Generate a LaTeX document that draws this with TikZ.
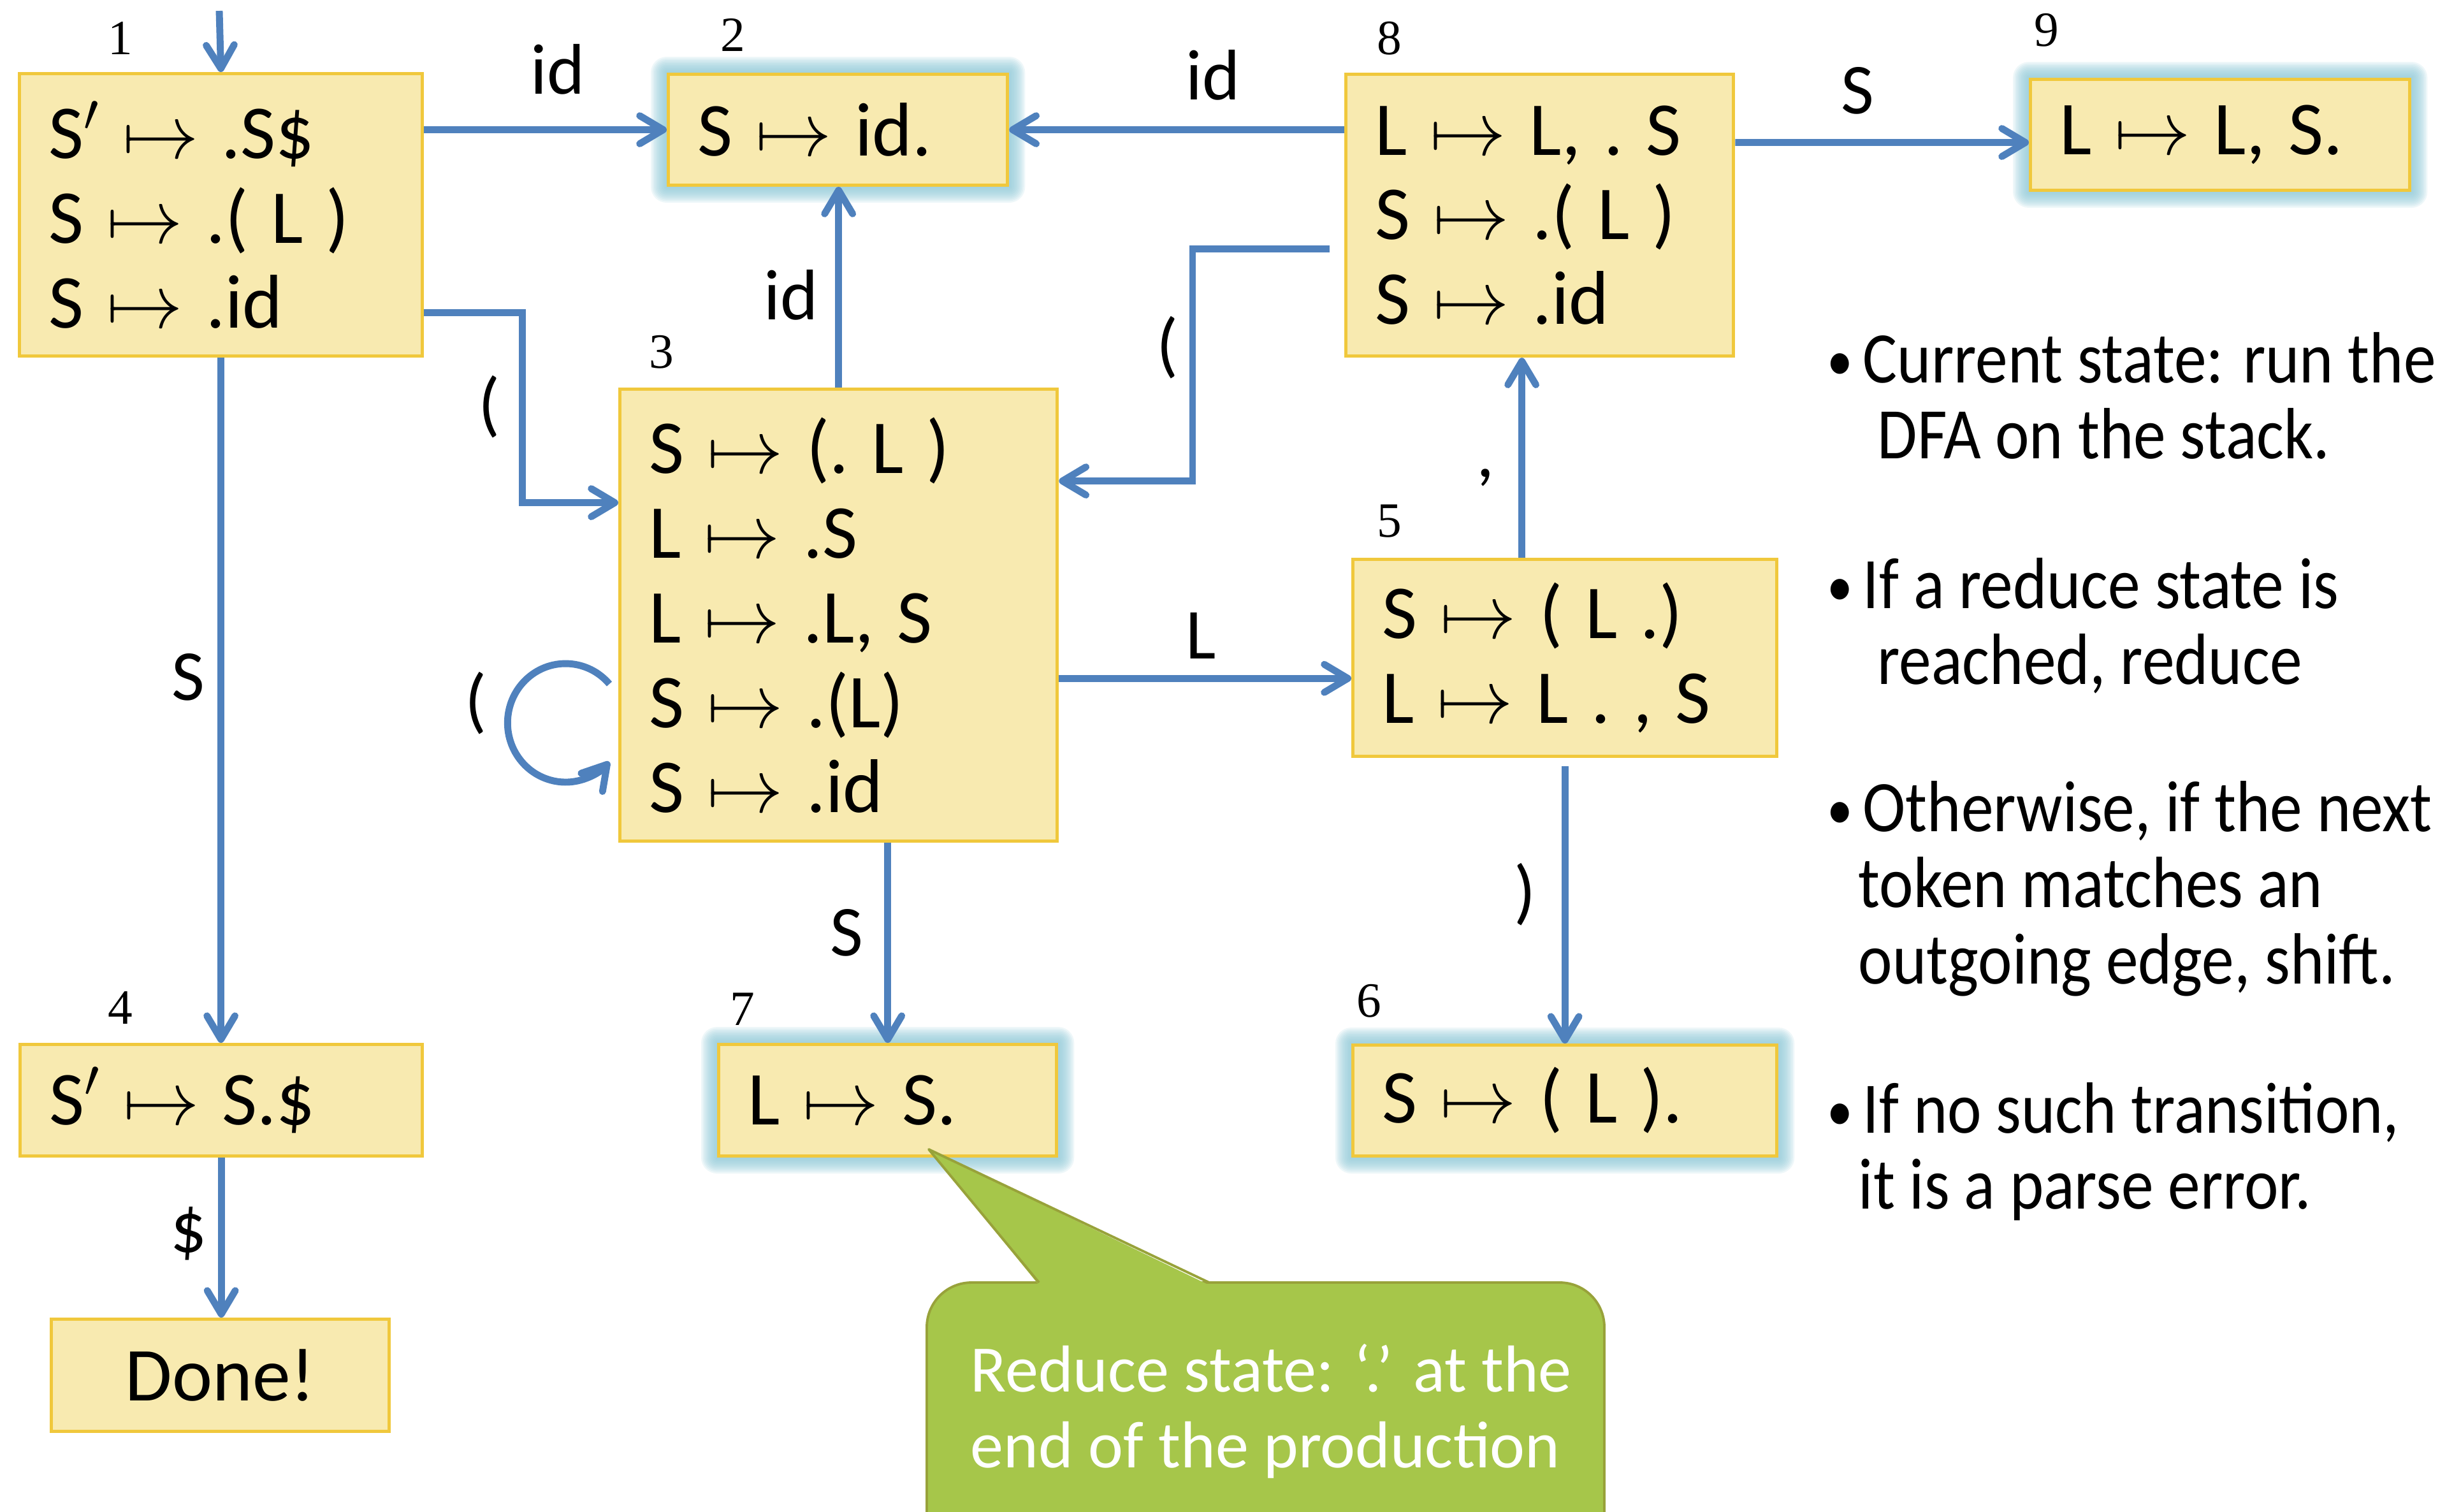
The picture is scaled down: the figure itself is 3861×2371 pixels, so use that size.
\RequirePackage{fix-cm}
\documentclass[tikz,border=0pt]{standalone}
\usepackage{fontspec}
\setmainfont{Carlito}
\newfontfamily\numfont{Liberation Serif}
\newfontfamily\bulletfont{Carlito}[FakeStretch=0.89]
\usetikzlibrary{arrows.meta,backgrounds}

\definecolor{statefill}{RGB}{248,234,176}
\definecolor{stateline}{RGB}{240,200,60}
\definecolor{edgeblue}{RGB}{79,129,189}
\definecolor{glowblue}{RGB}{146,204,218}
\definecolor{notefill}{RGB}{166,198,74}
\definecolor{noteline}{RGB}{152,162,58}

% item bullet and the gap used inside the item sets
\newcommand\itemdot{\makebox[0.56cm][l]{\raisebox{0.04cm}{\fontsize{26}{26}\selectfont •}}}
\newcommand\gap{\hspace{0.36cm}}
\newcommand\mt{\gap$\mapsto$\gap}

\tikzset{
  itembox/.style={draw=stateline, fill=statefill, line width=1.4pt, anchor=north west,
    inner xsep=0.46cm, inner ysep=0pt, align=left,
    font=\fontsize{34}{37.8}\selectfont},
  trans/.style={draw=edgeblue, line width=3.1pt,
    -{Straight Barb[round, length=10.5pt, width=12.5pt]}},
  edgelabel/.style={font=\fontsize{32}{36}\selectfont, inner sep=0pt},
  statenum/.style={font=\numfont\fontsize{22}{24}\selectfont, inner sep=0pt},
  bullettext/.style={font=\bulletfont\fontsize{32.4}{34.1}\selectfont, inner sep=0pt, anchor=base west},
  notetext/.style={font=\fontsize{29.6}{34.1}\selectfont, text=white, inner sep=0pt, anchor=base west},
}

\begin{document}
\begin{tikzpicture}[x=0.01cm, y=-0.01cm]
\useasboundingbox (0,0) rectangle (3861,2371);
\clip (0,0) rectangle (3861,2371);

% LR item sets
\node[itembox, minimum width=6.32cm, minimum height=4.43cm, text width=5.40cm] (n1) at (28,113)
  {S$'$\mt.S\$\\S\mt.(\gap L\gap)\\S\mt.id};
\node[itembox, minimum width=5.32cm, minimum height=1.74cm, text width=4.40cm] (n2) at (1046,114)
  {S\mt id.};
\node[itembox, minimum width=6.08cm, minimum height=4.42cm, text width=5.16cm] (n8) at (2109,114)
  {L\mt L,\gap.\gap S\\S\mt.(\gap L\gap)\\S\mt.id};
\node[itembox, minimum width=5.95cm, minimum height=1.74cm, text width=5.03cm] (n9) at (3183,122)
  {L\mt L,\gap S.};
\node[itembox, minimum width=6.86cm, minimum height=7.09cm, text width=5.94cm] (n3) at (970,608)
  {S\mt(.\gap L\gap)\\L\mt.S\\L\mt.L,\gap S\\S\mt.(L)\\S\mt.id};
\node[itembox, minimum width=6.65cm, minimum height=3.09cm, text width=5.73cm] (n5) at (2120,875)
  {S\mt(\gap L\gap.)\\L\mt L\gap.\gap,\gap S};
\node[itembox, minimum width=6.31cm, minimum height=1.75cm, text width=5.39cm] (n4) at (29,1636)
  {S$'$\mt S.\$};
\node[itembox, minimum width=5.30cm, minimum height=1.76cm, align=center] (nd) at (78,2067)
  {Done!};
\node[itembox, minimum width=5.30cm, minimum height=1.75cm, text width=4.38cm] (n7) at (1125,1636)
  {L\mt S.};
\node[itembox, minimum width=6.65cm, minimum height=1.74cm, text width=5.73cm] (n6) at (2120,1637)
  {S\mt(\gap L\gap).};

% state numbers
\node[statenum] (k1) at (189,60) {1};
\node[statenum] (k2) at (1150,55) {2};
\node[statenum] (k8) at (2180,60) {8};
\node[statenum] (k9) at (3211,47) {9};
\node[statenum] (k3) at (1038,552) {3};
\node[statenum] (k5) at (2180,818) {5};
\node[statenum] (k4) at (189,1581) {4};
\node[statenum] (k7) at (1165,1583) {7};
\node[statenum] (k6) at (2148,1570) {6};

% transitions
\coordinate (init) at (344,17);
\draw[trans] (init) -- (n1.north);
\draw[trans] (n1.east |- n2.west) -- (n2.west);
\draw[trans] ([yshift=-1.535cm]n1.east) -- ++(154,0) |- ([yshift=1.765cm]n3.west);
\draw[trans] (n1.south) -- (n1.south |- n4.north);
\draw[trans] (n4.south) -- (n4.south |- nd.north);
\draw[trans] (n3.north) -- (n3.north |- n2.south);
\draw[trans] (n8.west |- n2.east) -- (n2.east);
\draw[trans] ([xshift=-0.23cm, yshift=-0.53cm]n8.west) -- ++(-215,0) |- ([yshift=2.105cm]n3.east);
\draw[trans] ([yshift=1.14cm]n8.east) -- ([yshift=-0.12cm]n9.west);
\draw[trans] ([yshift=-0.99cm]n3.east) coordinate (p35) -- (p35 -| n5.west);
\draw[trans] ([xshift=-0.675cm]n5.north) coordinate (p58) -- (p58 |- n8.south);
\draw[trans] ([yshift=-0.13cm]n5.south) -- (n6.north);
\draw[trans] ([xshift=0.77cm]n3.south) coordinate (p37) -- (p37 |- n7.north);
\coordinate (loopstart) at (956,1073);
\draw[trans] (loopstart) arc[start angle=-41, end angle=-319, x radius=91, y radius=93];

% transition labels
\node[edgelabel] (l12) at (875,109) {id};
\node[edgelabel] (l13) at (768,638) {(};
\node[edgelabel] (l14) at (295,1062) {S};
\node[edgelabel] (l4d) at (296,1935) {\$};
\node[edgelabel] (l32) at (1241,463) {id};
\node[edgelabel] (l82) at (1903,118) {id};
\node[edgelabel] (l83) at (1832,545) {(};
\node[edgelabel] (l33) at (747,1103) {(};
\node[edgelabel] (l89) at (2914,142) {S};
\node[edgelabel] (l35) at (1884,997) {L};
\node[edgelabel] (l58) at (2331,749) {,};
\node[edgelabel] (l56) at (2393,1403) {)};
\node[edgelabel] (l37) at (1328,1463) {S};

% callout
\fill[notefill, draw=noteline, line width=1.1pt, rounded corners=0.7cm] (1454,2012) rectangle (2517,2500);
\fill[notefill] (1630,2016) -- (1457,1803) -- (1897,2016) -- cycle;
\draw[noteline, line width=1.1pt, line join=round] (1630,2012) -- (1457,1803) -- (1897,2012);
\node[notetext] (note) at (1522,2183)
  {\parbox[t]{10cm}{Reduce state: ‘.’ at the\\end of the production}};

% explanation
\node[bullettext] (b1) at (2866,600)
  {\parbox[t]{11cm}{\itemdot Current state: run the\\\hspace*{0.79cm}DFA on the stack.}};
\node[bullettext] (b2) at (2866,954)
  {\parbox[t]{11cm}{\itemdot If a reduce state is\\\hspace*{0.79cm}reached, reduce}};
\node[bullettext] (b3) at (2866,1304)
  {\parbox[t]{11cm}{\itemdot Otherwise, if the next\\\hspace*{0.49cm}token matches an\\\hspace*{0.49cm}outgoing edge, shift.}};
\node[bullettext] (b4) at (2866,1777)
  {\parbox[t]{11cm}{\itemdot If no such transition,\\\hspace*{0.49cm}it is a parse error.}};

% glow around the reduce states
\begin{scope}[on background layer]
  \fill[white] (0,0) rectangle (3861,2371);
  \foreach \g in {n2,n9,n7,n6}{
    \foreach \i in {1,...,10}{
      \pgfmathsetmacro\rr{0.025*\i}
      \fill[glowblue, fill opacity=0.15, rounded corners=\rr cm]
        ([shift={(-2.5*\i,-2.5*\i)}]\g.north west) rectangle ([shift={(2.5*\i,2.5*\i)}]\g.south east);
    }
  }
\end{scope}
\end{tikzpicture}
\end{document}
